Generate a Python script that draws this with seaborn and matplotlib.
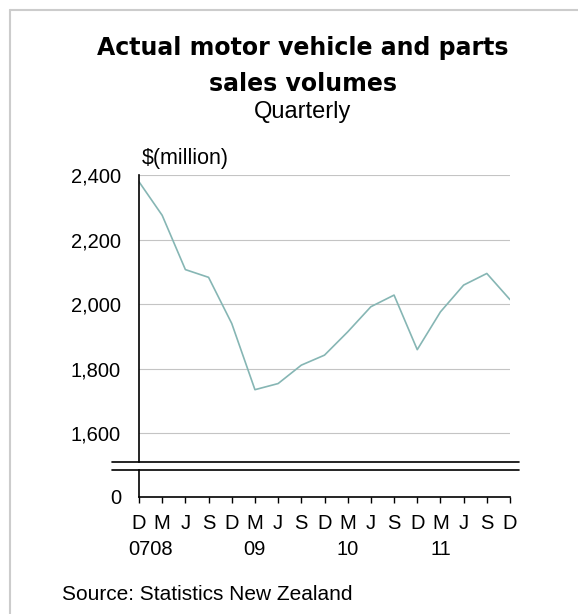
import numpy as np
import matplotlib
matplotlib.use('Agg')
import matplotlib.pyplot as plt
import seaborn as sns
from matplotlib.lines import Line2D

# quarterly sales volumes, $(million), Dec 2007 - Dec 2011
trimestres = ["D", "M", "J", "S", "D", "M", "J", "S", "D",
              "M", "J", "S", "D", "M", "J", "S", "D"]
ventas = [2379, 2275, 2107, 2083, 1940, 1735, 1754, 1811, 1842,
          1914, 1992, 2028, 1859, 1976, 2059, 2095, 2014]
anios = ["0708", "09", "10", "11"]
pos_anios = [0.5, 5, 9, 13]
ticks_y = [1600, 1800, 2000, 2200, 2400]

sns.set_style("white")
plt.rcParams['font.family'] = ['Liberation Sans', 'DejaVu Sans']
plt.rcParams['text.color'] = 'black'

W, H = 578, 614
fig = plt.figure(figsize=(W / 100, H / 100), dpi=100)

x0, x1 = 139 / W, 510 / W
ax = fig.add_axes([x0, 1 - 462 / H, x1 - x0, (462 - 175) / H])
ax2 = fig.add_axes([x0, 1 - 497 / H, x1 - x0, (497 - 470) / H])

x = np.arange(len(ventas))
sns.lineplot(x=x, y=ventas, ax=ax, color='#86b6b4', linewidth=1.2)

fs = 14.5
ax.set_xlim(0, len(ventas) - 1)
ax.set_ylim(1511, 2400)
ax.set_yticks(ticks_y)
ax.set_yticklabels([f"{v:,}" for v in ticks_y])
ax.yaxis.grid(True, color='#c4c4c4', linewidth=0.8)
ax.set_xticks([])
ax.tick_params(axis='y', length=0, pad=13, labelsize=fs, colors='black')
for s in ['top', 'right', 'bottom']:
    ax.spines[s].set_visible(False)
ax.spines['left'].set_color('black')
ax.spines['left'].set_linewidth(1.2)

# lower stub for the zero baseline
ax2.set_xlim(0, len(ventas) - 1)
ax2.set_ylim(0, 100)
ax2.set_yticks([0])
ax2.set_yticklabels(["0"])
ax2.tick_params(axis='y', length=0, pad=13, labelsize=fs, colors='black')
ax2.xaxis.remove_overlapping_locs = False
ax2.set_xticks(x)
ax2.set_xticklabels(trimestres)
ax2.set_xticks(pos_anios, minor=True)
ax2.set_xticklabels(anios, minor=True)
ax2.tick_params(axis='x', which='major', direction='out', length=4.3, width=1,
                pad=8, labelsize=fs, colors='black', bottom=True)
ax2.tick_params(axis='x', which='minor', length=0, pad=31, labelsize=fs,
                colors='black', bottom=True)
for s in ['top', 'right']:
    ax2.spines[s].set_visible(False)
for s in ['left', 'bottom']:
    ax2.spines[s].set_color('black')
    ax2.spines[s].set_linewidth(1.2)

# axis break lines
for yy in [462, 470]:
    fig.add_artist(Line2D([112 / W, 519 / W], [1 - yy / H, 1 - yy / H],
                          color='black', linewidth=1.2))

# frame on left and top
fig.add_artist(Line2D([10 / W, 10 / W], [0, 1 - 10 / H], color='#cccccc', linewidth=1.5))
fig.add_artist(Line2D([10 / W, 1], [1 - 10 / H, 1 - 10 / H], color='#cccccc', linewidth=1.5))

cx = 303 / W
fig.text(cx, 1 - 55 / H, "Actual motor vehicle and parts", ha='center', va='baseline',
         fontsize=17, fontweight='bold', family=['DejaVu Sans'])
fig.text(cx, 1 - 91 / H, "sales volumes", ha='center', va='baseline',
         fontsize=17, fontweight='bold', family=['DejaVu Sans'])
fig.text(cx, 1 - 118 / H, "Quarterly", ha='center', va='baseline', fontsize=17)
fig.text(142 / W, 1 - 164 / H, "$(million)", ha='left', va='baseline', fontsize=15.5)
fig.text(62 / W, 1 - 600 / H, "Source: Statistics New Zealand", ha='left', va='baseline',
         fontsize=15)

fig.savefig("out.png", dpi=100)
